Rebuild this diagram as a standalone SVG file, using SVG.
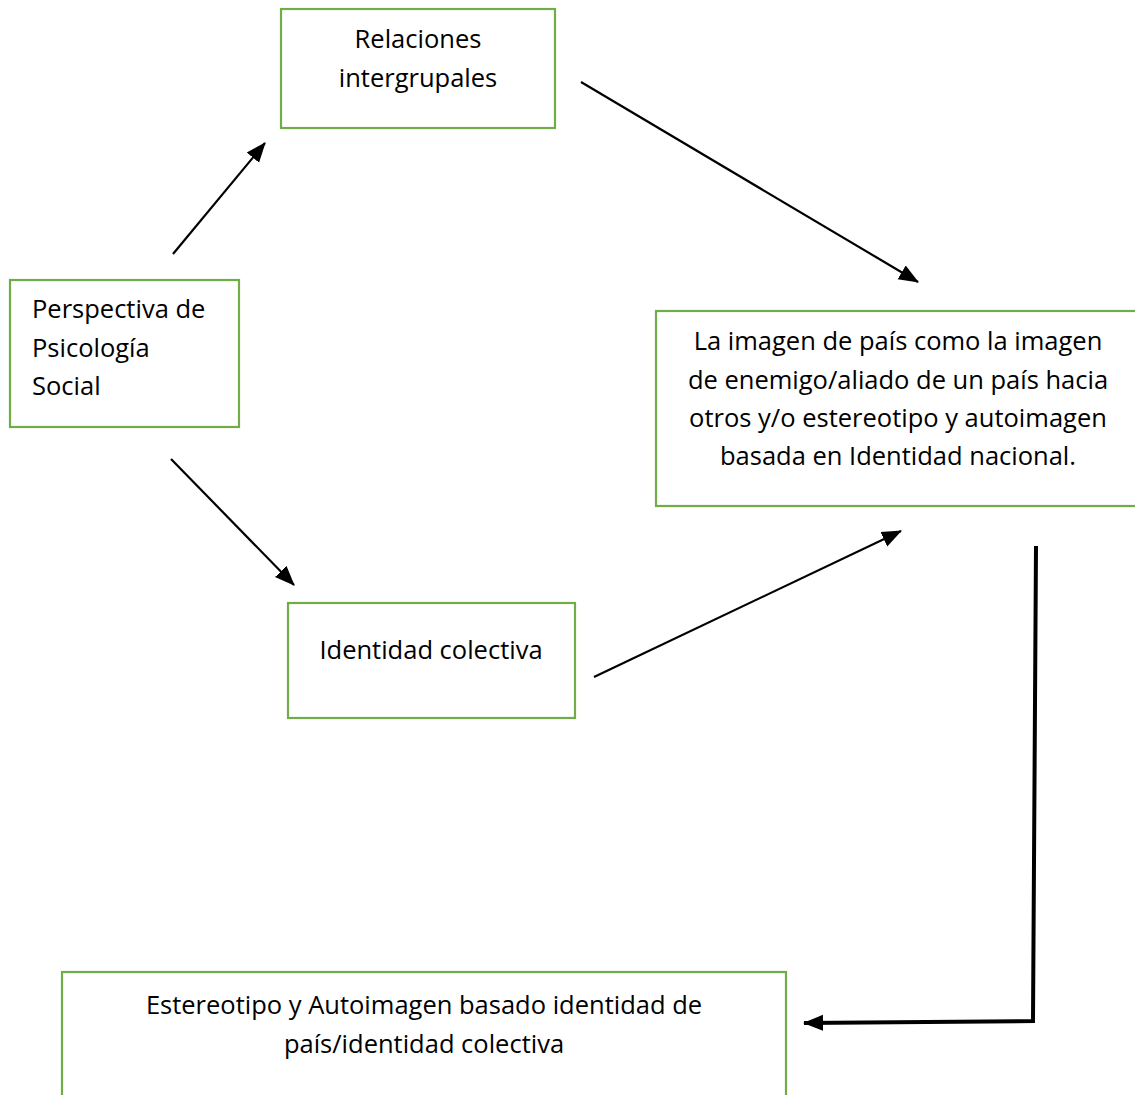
<svg xmlns="http://www.w3.org/2000/svg" width="1135" height="1095" viewBox="0 0 1135 1095">
<style>
.box{fill:#fff;stroke:#70AD47;stroke-width:2.2}
.t{font-family:"Open Sans","Noto Sans","Liberation Sans",sans-serif;font-size:25.5px;fill:#000}
.c{text-anchor:middle}
.ln{stroke:#000;stroke-width:2.2;fill:none}
.lnb{stroke:#000;stroke-width:4;fill:none}
</style>
<defs>
<marker id="ah" markerUnits="userSpaceOnUse" markerWidth="22" markerHeight="18" refX="19" refY="8" orient="auto" viewBox="0 0 22 16">
<path d="M0,0 L20,8 L0,16 Z" fill="#000"/>
</marker>
</defs>
<rect width="1135" height="1095" fill="#fff"/>
<g id="n-relaciones">
<rect class="box" x="281" y="9" width="274" height="119"/>
<text class="t c" x="418" y="48">Relaciones</text>
<text class="t c" x="418" y="87">intergrupales</text>
</g>
<g id="n-perspectiva">
<rect class="box" x="10" y="280" width="229" height="147"/>
<text class="t" x="32" y="318">Perspectiva de</text>
<text class="t" x="32" y="357">Psicología</text>
<text class="t" x="32" y="395">Social</text>
</g>
<g id="n-imagen">
<rect class="box" x="656" y="311" width="490" height="195"/>
<text class="t c" x="898" y="350">La imagen de país como la imagen</text>
<text class="t c" x="898" y="389">de enemigo/aliado de un país hacia</text>
<text class="t c" x="898" y="427">otros y/o estereotipo y autoimagen</text>
<text class="t c" x="898" y="465">basada en Identidad nacional.</text>
</g>
<g id="n-identidad">
<rect class="box" x="288" y="603" width="287" height="115"/>
<text class="t c" x="431" y="659">Identidad colectiva</text>
</g>
<g id="n-estereotipo">
<rect class="box" x="62" y="972" width="724" height="140"/>
<text class="t c" x="424" y="1014">Estereotipo y Autoimagen basado identidad de</text>
<text class="t c" x="424" y="1053">país/identidad colectiva</text>
</g>
<g id="connectors">
<line class="ln" x1="173" y1="254" x2="265" y2="143" marker-end="url(#ah)"/>
<line class="ln" x1="581" y1="82" x2="918" y2="282" marker-end="url(#ah)"/>
<line class="ln" x1="171" y1="459" x2="294" y2="585" marker-end="url(#ah)"/>
<line class="ln" x1="594" y1="677" x2="901" y2="531" marker-end="url(#ah)"/>
<polyline class="lnb" points="1036,546 1033,1021 804,1023" marker-end="url(#ah)"/>
</g>
</svg>
